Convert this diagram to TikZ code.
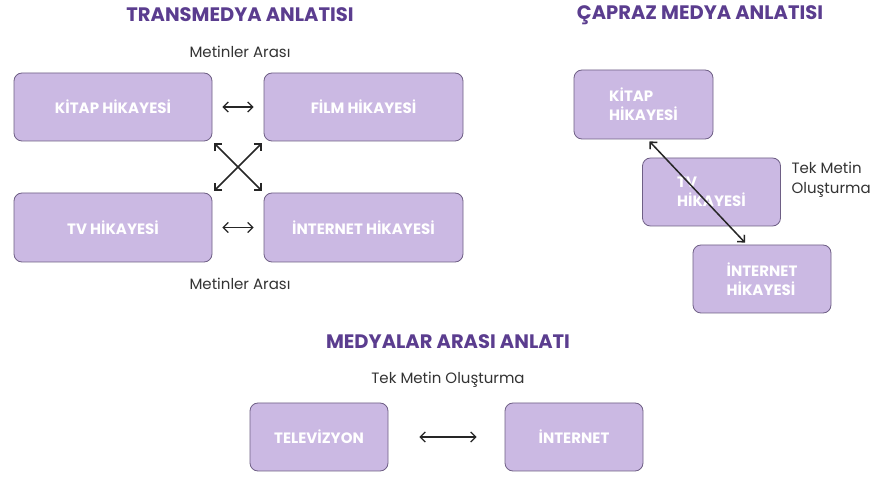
\documentclass[tikz,border=0pt]{standalone}
\usepackage{fontspec}
\setmainfont{Poppins}
\usetikzlibrary{arrows.meta}
\definecolor{boxfill}{HTML}{CBB9E3}
\definecolor{boxline}{HTML}{6E5F85}
\definecolor{titlecol}{HTML}{5B3D8F}
\definecolor{txtcol}{HTML}{333333}
\begin{document}
\begin{tikzpicture}[x=1pt,y=-1pt,
  mbox/.style={draw=boxline,line width=0.8pt,fill=boxfill,rounded corners=8pt,
    inner sep=0pt,text=white,font=\fontsize{15}{19}\selectfont\bfseries},
  ttl/.style={text=titlecol,font=\fontsize{19.5}{23}\selectfont\bfseries},
  lbl/.style={text=txtcol,font=\fontsize{15}{20}\selectfont},
  conn/.style={draw=black!85,line width=1.5pt,{Straight Barb[length=5pt,width=10pt]}-{Straight Barb[length=5pt,width=10pt]}}
]
\fill[white] (0,0) rectangle (879,478);
\useasboundingbox (0,0) rectangle (879,478);
% titles
\node[ttl] (ttrans) at (240,15) {TRANSMEDYA ANLATISI};
\node[ttl] (tcap) at (700,15) {ÇAPRAZ MEDYA ANLATISI};
\node[ttl] (tmed) at (448,342) {MEDYALAR ARASI ANLATI};
% transmedya
\node[lbl] (ma1) at (240,52) {Metinler Arası};
\node[mbox,minimum width=198pt,minimum height=68pt] (k1) at (113,107) {KİTAP HİKAYESİ};
\node[mbox,minimum width=199pt,minimum height=68pt] (f1) at (363.5,107) {FİLM HİKAYESİ};
\node[mbox,minimum width=198pt,minimum height=69pt] (t1) at (113,227.5) {TV HİKAYESİ};
\node[mbox,minimum width=199pt,minimum height=69pt] (i1) at (363.5,227.5) {İNTERNET HİKAYESİ};
\node[lbl] (ma2) at (240,284) {Metinler Arası};
\draw[conn,line width=1.3pt] ([xshift=10pt]k1.east) -- ([xshift=-10pt]f1.west);
\draw[conn,line width=1.3pt] ([xshift=10pt]t1.east) -- ([xshift=-10pt]i1.west);
\draw[conn] ([xshift=2pt,yshift=-2pt]k1.south east) -- ([xshift=-2pt,yshift=2pt]i1.north west);
\draw[conn] ([xshift=-2pt,yshift=-2pt]f1.south west) -- ([xshift=2pt,yshift=2pt]t1.north east);
% capraz
\node[mbox,minimum width=139pt,minimum height=69pt,align=left] (k2) at (643.5,104.5) {KİTAP\\HİKAYESİ};
\node[mbox,minimum width=138pt,minimum height=68pt,align=left] (t2) at (711.5,192) {TV\\HİKAYESİ};
\node[mbox,minimum width=138pt,minimum height=68pt,align=left] (i2) at (762,279) {İNTERNET\\HİKAYESİ};
\node[lbl,anchor=west,align=left] (tm1) at (788,180) {Tek Metin\\Oluşturma};
\draw[conn] ([xshift=6pt,yshift=-2pt]k2.south) -- ([xshift=-17pt,yshift=2pt]i2.north);
% medyalar arasi
\node[lbl] (tm2) at (448,380) {Tek Metin Oluşturma};
\node[mbox,minimum width=138pt,minimum height=68pt] (tv3) at (319,437) {TELEVİZYON};
\node[mbox,minimum width=138pt,minimum height=68pt] (in3) at (574,437) {İNTERNET};
\draw[conn,line width=1.3pt] ([xshift=31pt]tv3.east) -- ([xshift=-28pt]in3.west);
\end{tikzpicture}
\end{document}
